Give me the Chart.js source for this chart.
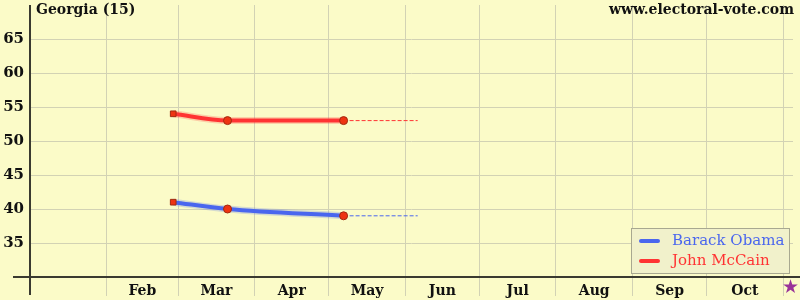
<!DOCTYPE html>
<html>
<head>
<meta charset="utf-8">
<script src="https://cdn.jsdelivr.net/npm/chart.js@4/dist/chart.umd.min.js"></script>
<style>
  html, body { margin: 0; padding: 0; background: #fbfbc8; }
  #wrap { width: 800px; height: 300px; }
</style>
</head>
<body>
<div id="wrap"><canvas id="c" width="800" height="300"></canvas></div>
<script>
// ---- data ----
const stateTitle = 'Georgia (15)';
const siteName = 'www.electoral-vote.com';
const seriesNames = ['Barack Obama', 'John McCain'];
const pollDates = ['2008-02-28', '2008-03-21', '2008-05-07'];
const obamaValues = [41, 40, 39];
const mccainValues = [54, 53, 53];
const projectionEnd = '2008-06-06';
const monthLabels = ['Jan', 'Feb', 'Mar', 'Apr', 'May', 'Jun', 'Jul', 'Aug', 'Sep', 'Oct'];
const monthStarts = ['2008-01-01', '2008-02-01', '2008-03-01', '2008-04-01', '2008-05-01', '2008-06-01',
                     '2008-07-01', '2008-08-01', '2008-09-01', '2008-10-01', '2008-11-01'];
const electionDay = '2008-11-04';
const yTickValues = [35, 40, 45, 50, 55, 60, 65];

// ---- helpers ----
const dayNum = s => (Date.parse(s + 'T00:00:00Z') - Date.parse('2008-01-01T00:00:00Z')) / 86400000;
const boundaryDays = monthStarts.map(dayNum);
const midDays = monthLabels.map((m, i) => (boundaryDays[i] + boundaryDays[i + 1]) / 2);
const labelByMid = {};
midDays.forEach((d, i) => { if (i > 0) labelByMid[d] = monthLabels[i]; });

const blue = '#4a66ee';
const red = '#ff3333';
const pointFill = '#ee3311';
const pointEdge = '#a02a10';
const gridColor = '#d2d2b4';
const axisColor = '#3a3a30';
const font = 'DejaVu Serif';

const mkPts = vals => pollDates.map((d, i) => ({ x: dayNum(d), y: vals[i] }));
const mkProj = vals => [{ x: dayNum(pollDates[pollDates.length - 1]), y: vals[vals.length - 1] },
                        { x: dayNum(projectionEnd), y: vals[vals.length - 1] }];
const pointStyles = pollDates.map((d, i) => i === 0 ? 'rect' : 'circle');

const mainLine = (label, vals, color) => ({
  label, data: mkPts(vals), borderColor: color, borderWidth: 4,
  cubicInterpolationMode: 'monotone',
  pointStyle: pointStyles, pointRadius: 4, pointBackgroundColor: pointFill,
  pointBorderColor: pointEdge, pointBorderWidth: 1, order: 0
});
const glowLine = (vals, color) => ({
  label: '_glow', data: mkPts(vals), borderColor: color + '38', borderWidth: 7,
  cubicInterpolationMode: 'monotone', pointRadius: 0, order: 2
});
const projLine = (vals, color) => ({
  label: '_proj', data: mkProj(vals), borderColor: color, borderWidth: 1,
  borderDash: [4, 2], pointRadius: 0, order: 1
});

const zeroPad = s => { s.paddingTop = 0; s.paddingBottom = 0; s.paddingLeft = 0; s.paddingRight = 0; };

const decorations = {
  id: 'decorations',
  afterDraw(chart) {
    const { ctx, chartArea: a, scales } = chart;
    ctx.save();
    // axes
    ctx.strokeStyle = axisColor; ctx.lineWidth = 2;
    ctx.beginPath(); ctx.moveTo(a.left, a.top); ctx.lineTo(a.left, 295); ctx.stroke();
    ctx.beginPath(); ctx.moveTo(13, a.bottom); ctx.lineTo(800, a.bottom); ctx.stroke();
    // titles
    ctx.fillStyle = '#111';
    ctx.font = 'bold 14px "' + font + '"';
    ctx.textBaseline = 'middle';
    ctx.textAlign = 'left';
    ctx.fillText(stateTitle, 36, 10);
    ctx.textAlign = 'right';
    ctx.fillText(siteName, 794, 10);
    // election day star
    ctx.fillStyle = '#993399';
    ctx.textAlign = 'center';
    ctx.font = '19px "DejaVu Sans"';
    ctx.fillText('\u2605', scales.x.getPixelForValue(dayNum(electionDay)), 288);
    // legend
    const lx = 631, ly = 228, lw = 158, lh = 45;
    ctx.fillStyle = '#f1f1cb';
    ctx.fillRect(lx, ly, lw, lh);
    ctx.strokeStyle = '#a8a890'; ctx.lineWidth = 1;
    ctx.strokeRect(lx + 0.5, ly + 0.5, lw, lh);
    const cols = [blue, red];
    ctx.font = '15px "' + font + '"';
    ctx.textAlign = 'left';
    seriesNames.forEach((n, i) => {
      const y = ly + 13 + i * 20;
      ctx.strokeStyle = cols[i]; ctx.lineWidth = 4; ctx.lineCap = 'round';
      ctx.beginPath(); ctx.moveTo(641, y); ctx.lineTo(658, y); ctx.stroke();
      ctx.fillStyle = cols[i];
      ctx.fillText(n, 672, y);
    });
    ctx.restore();
  }
};

new Chart(document.getElementById('c'), {
  type: 'line',
  data: {
    datasets: [
      mainLine(seriesNames[0], obamaValues, blue),
      mainLine(seriesNames[1], mccainValues, red),
      projLine(obamaValues, blue),
      projLine(mccainValues, red),
      glowLine(obamaValues, blue),
      glowLine(mccainValues, red)
    ]
  },
  options: {
    responsive: false,
    animation: false,
    layout: { padding: { top: 5, right: 7, left: 0, bottom: 0 } },
    plugins: { legend: { display: false }, tooltip: { enabled: false } },
    scales: {
      x: {
        type: 'linear',
        min: 0, max: 309,
        afterBuildTicks(scale) {
          scale.ticks = boundaryDays.slice(1).concat(midDays.slice(1)).map(v => ({ value: v }));
        },
        afterFit(scale) { scale.height = 23; zeroPad(scale); },
        border: { display: false },
        grid: {
          color: c => (c.tick && boundaryDays.includes(c.tick.value)) ? gridColor : 'rgba(0,0,0,0)',
          lineWidth: 1,
          drawTicks: true,
          tickLength: 19,
          tickColor: c => (c.tick && boundaryDays.includes(c.tick.value)) ? gridColor : 'rgba(0,0,0,0)'
        },
        ticks: {
          autoSkip: false, maxRotation: 0, padding: -13,
          color: '#111',
          font: { family: font, size: 14, weight: 'bold' },
          callback: v => labelByMid[v] || ''
        }
      },
      y: {
        min: 30, max: 70,
        afterBuildTicks(scale) {
          scale.ticks = [30].concat(yTickValues).concat([70]).map(v => ({ value: v }));
        },
        afterFit(scale) { scale.width = 30; zeroPad(scale); },
        border: { display: false },
        grid: {
          color: c => (c.tick && yTickValues.includes(c.tick.value)) ? gridColor : 'rgba(0,0,0,0)',
          drawTicks: false
        },
        ticks: {
          padding: 6,
          color: '#111',
          font: { family: font, size: 15, weight: 'bold' },
          callback: v => yTickValues.includes(v) ? String(v) : ''
        }
      }
    }
  },
  plugins: [decorations]
});
</script>
</body>
</html>
